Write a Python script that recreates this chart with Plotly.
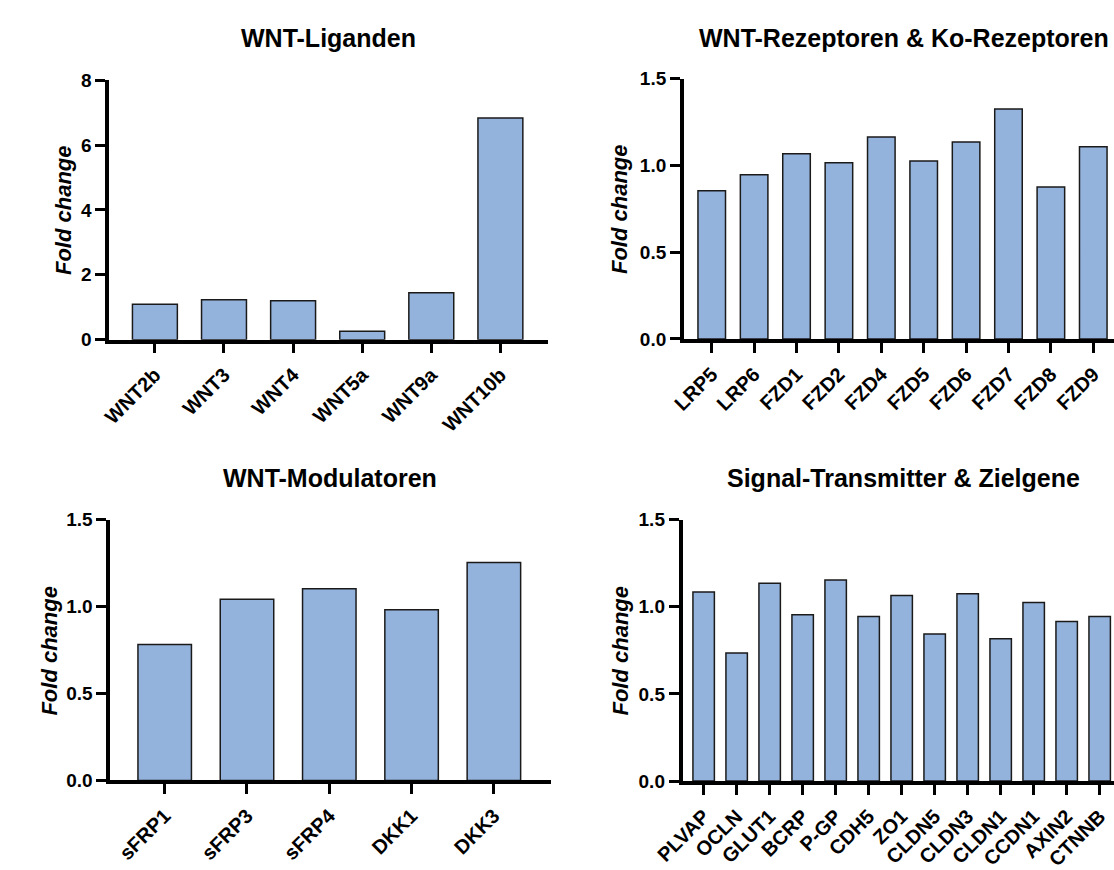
import plotly.graph_objects as go

# ---------------- data ----------------
ligand_genes = ["WNT2b", "WNT3", "WNT4", "WNT5a", "WNT9a", "WNT10b"]
ligand_fc = [1.09, 1.23, 1.20, 0.26, 1.45, 6.84]

receptor_genes = ["LRP5", "LRP6", "FZD1", "FZD2", "FZD4", "FZD5", "FZD6", "FZD7", "FZD8", "FZD9"]
receptor_fc = [0.855, 0.947, 1.067, 1.016, 1.164, 1.026, 1.136, 1.326, 0.876, 1.108]

modulator_genes = ["sFRP1", "sFRP3", "sFRP4", "DKK1", "DKK3"]
modulator_fc = [0.783, 1.043, 1.104, 0.983, 1.255]

target_genes = ["PLVAP", "OCLN", "GLUT1", "BCRP", "P-GP", "CDH5", "ZO1", "CLDN5",
                "CLDN3", "CLDN1", "CCDN1", "AXIN2", "CTNNB"]
target_fc = [1.084, 0.734, 1.134, 0.954, 1.154, 0.944, 1.065, 0.844, 1.075, 0.816,
             1.024, 0.916, 0.944]

titles = ["WNT-Liganden", "WNT-Rezeptoren & Ko-Rezeptoren",
          "WNT-Modulatoren", "Signal-Transmitter & Zielgene"]
y_title = "Fold change"

# ---------------- styling ----------------
W, H = 1114, 870
FONT = "Arial, Liberation Sans, sans-serif"
BAR_COLOR = "#94B3DC"
LINE_COLOR = "#1a1a1a"


def xd(a, b):
    return [a / W, min(b / W, 1.0)]


def yd(top, bottom):
    return [1 - bottom / H, 1 - top / H]


panels = [
    # genes, values, x-domain px, y-domain px, x-range, y-range, dtick, fmt
    (ligand_genes, ligand_fc, (82.3, 533.3), (72.3, 339.0), [-0.662, 5.695], [0, 8], 2, "d"),
    (receptor_genes, receptor_fc, (672.3, 1114), (70.7, 338.3), [-0.659, 9.489], [0, 1.5], 0.5, ".1f"),
    (modulator_genes, modulator_fc, (83.3, 535.7), (524.3, 792.3), [-0.663, 4.691], [0, 1.5], 0.5, ".1f"),
    (target_genes, target_fc, (671, 1114), (524.0, 793.0), [-0.64, 12.434], [0, 1.5], 0.5, ".1f"),
]

title_pos = [(307.8, 29), (898, 29), (308.7, 481), (898, 481)]
ytitle_x = [36, 607, 21, 607]

fig = go.Figure()
layout = dict(
    width=W, height=H,
    margin=dict(l=0, r=0, t=0, b=0),
    paper_bgcolor="white", plot_bgcolor="white",
    showlegend=False,
    bargap=0.35,
    font=dict(family=FONT, color="black"),
    annotations=[],
)

for i, (genes, vals, xdom, ydom, xr, yr, dt, fmt) in enumerate(panels):
    sfx = "" if i == 0 else str(i + 1)
    fig.add_trace(go.Bar(
        x=genes, y=vals,
        xaxis="x" + sfx, yaxis="y" + sfx,
        marker=dict(color=BAR_COLOR, line=dict(color=LINE_COLOR, width=1.5)),
        width=0.65,
    ))
    layout["xaxis" + sfx] = dict(
        domain=xd(*xdom), anchor="y" + sfx, type="category",
        range=xr, showgrid=False, zeroline=False,
        showline=True, linecolor="black", linewidth=3.5,
        ticks="outside", ticklen=10, tickwidth=3, tickcolor="black",
        tickangle=-45, ticklabelstandoff=2,
        tickfont=dict(family=FONT, size=20, color="black", weight="bold"),
    )
    layout["yaxis" + sfx] = dict(
        domain=yd(*ydom), anchor="x" + sfx,
        range=yr, dtick=dt, tick0=0, tickformat=fmt,
        showgrid=False, zeroline=False,
        showline=True, linecolor="black", linewidth=3.5,
        ticks="outside", ticklen=10, tickwidth=3, tickcolor="black",
        tickfont=dict(family=FONT, size=19, color="black", weight="bold"),
    )
    tx, ty = title_pos[i]
    layout["annotations"].append(dict(
        text="<b>" + titles[i] + "</b>", xref="paper", yref="paper",
        x=tx / W, y=1 - ty / H, xanchor="center", yanchor="middle",
        showarrow=False, font=dict(family=FONT, size=25, color="black"),
    ))
    ymid = (ydom[0] + ydom[1]) / 2
    layout["annotations"].append(dict(
        text="<b><i>" + y_title + "</i></b>", xref="paper", yref="paper",
        x=ytitle_x[i] / W, y=1 - ymid / H, xanchor="center", yanchor="middle",
        textangle=-90, showarrow=False,
        font=dict(family=FONT, size=22, color="black"),
    ))

fig.update_layout(**layout)
fig.write_html(
    "out.html",
    config={"displayModeBar": False},
    post_script="document.body.style.margin='0';document.body.style.padding='0';"
                "document.body.style.overflow='hidden';"
                "document.documentElement.style.overflow='hidden';",
)
